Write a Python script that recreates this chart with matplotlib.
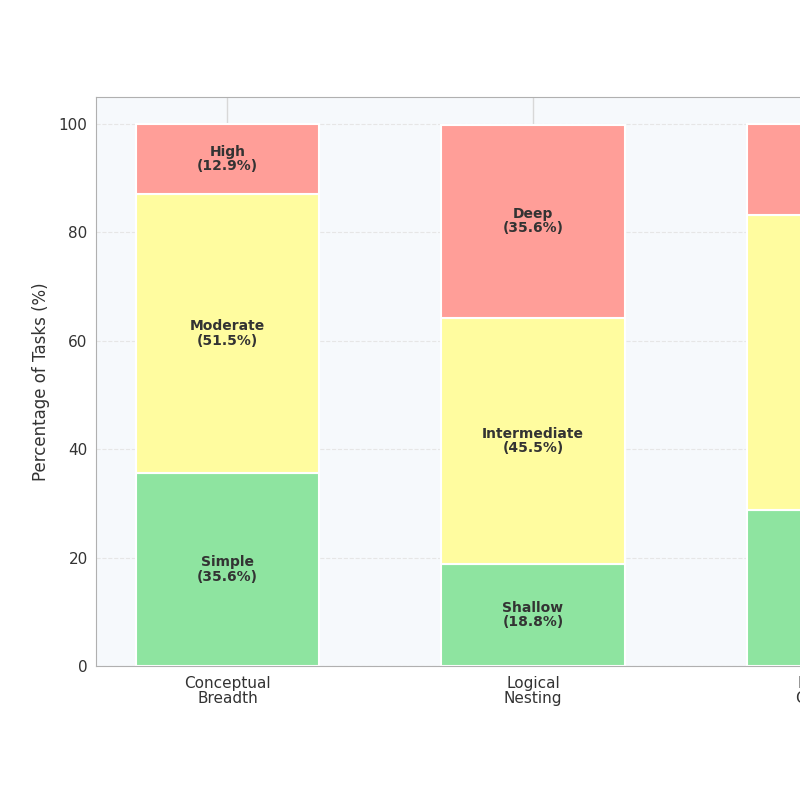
import numpy as np
import matplotlib
matplotlib.use('Agg')
import matplotlib.pyplot as plt

# Данные (n = 101 задача)
categories = ['Conceptual\nBreadth', 'Logical\nNesting', 'Procedural\nComplexity']
bottom_labels = ['Simple', 'Shallow', 'Low']
middle_labels = ['Moderate', 'Intermediate', 'Medium']
top_labels = ['High', 'Deep', 'High']
bottom_vals = [35.6, 18.8, 28.7]
middle_vals = [51.5, 45.5, 54.5]
top_vals = [12.9, 35.6, 16.8]

colors = ['#8ee4a0', '#fffc9f', '#ff9e98']

fig = plt.figure(figsize=(8, 8), dpi=100)
ax = fig.add_axes([0.12, 0.1675, 1.0925, 0.71125])
ax.set_facecolor('#f6f9fc')

x = np.arange(len(categories))
width = 0.6

ax.grid(axis='x', color='#d8d8d8', linewidth=1, zorder=0)
ax.grid(axis='y', color='#e6e6e6', linestyle='--', linewidth=0.8, zorder=0)
ax.set_axisbelow(True)

ax.bar(x, bottom_vals, width, color=colors[0], edgecolor='white', linewidth=1.5, zorder=2)
ax.bar(x, middle_vals, width, bottom=bottom_vals, color=colors[1],
       edgecolor='white', linewidth=1.5, zorder=2)
bot2 = np.array(bottom_vals) + np.array(middle_vals)
ax.bar(x, top_vals, width, bottom=bot2, color=colors[2],
       edgecolor='white', linewidth=1.5, zorder=2)

# Подписи внутри сегментов
for i in range(len(categories)):
    segs = [(bottom_labels[i], bottom_vals[i], 0),
            (middle_labels[i], middle_vals[i], bottom_vals[i]),
            (top_labels[i], top_vals[i], bot2[i])]
    for lab, v, b in segs:
        ax.text(x[i], b + v / 2, f'{lab}\n({v}%)', ha='center', va='center',
                fontsize=10, fontweight='bold', color='#333333', linespacing=1.05)

ax.set_ylim(0, 105)
ax.set_xlim(-0.43, 2.43)
ax.set_xticks(x)
ax.set_xticklabels(categories, fontsize=11, color='#333333', linespacing=1.0)
ax.set_yticks([0, 20, 40, 60, 80, 100])
ax.tick_params(axis='y', labelsize=11, labelcolor='#333333', length=0, pad=6)
ax.tick_params(axis='x', length=0, pad=7)
ax.set_ylabel('Percentage of Tasks (%)', fontsize=12, color='#333333', labelpad=6)

for s in ax.spines.values():
    s.set_color('#b0b0b0')

fig.savefig('out.png', dpi=100)
